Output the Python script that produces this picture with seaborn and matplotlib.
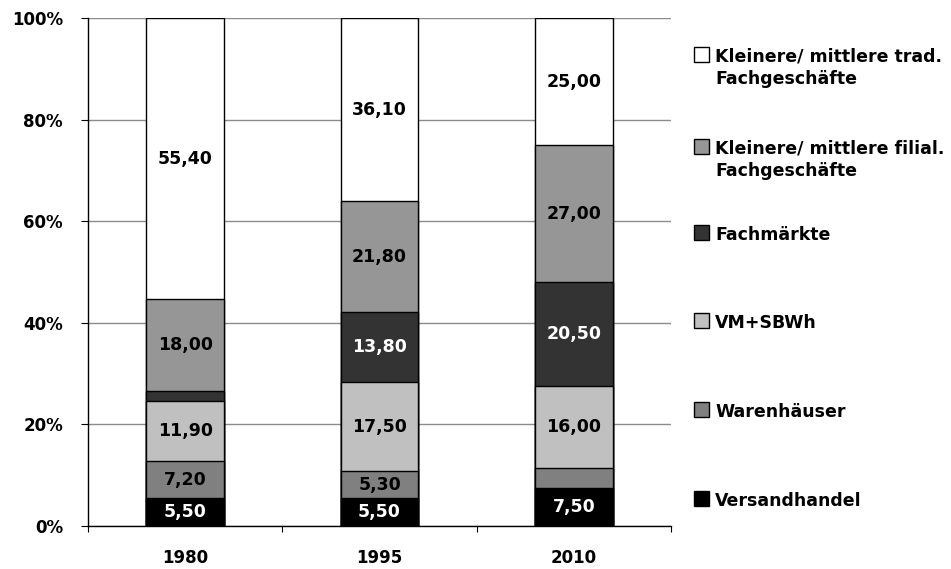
import matplotlib
matplotlib.use("Agg")
import matplotlib.pyplot as plt
from matplotlib.patches import Rectangle
import numpy as np
import pandas as pd
import seaborn as sns

# Shares of retail channels (percent), stacked bottom to top
years = ["1980", "1995", "2010"]
versandhandel = [5.5, 5.5, 7.5]
warenhaeuser = [7.2, 5.3, 4.0]
vm_sbwh = [11.9, 17.5, 16.0]
fachmaerkte = [2.0, 13.8, 20.5]
filial_fach = [18.0, 21.8, 27.0]
trad_fach = [55.4, 36.1, 25.0]

series_names = [
    "Versandhandel",
    "Warenhäuser",
    "VM+SBWh",
    "Fachmärkte",
    "Kleinere/ mittlere filial.\nFachgeschäfte",
    "Kleinere/ mittlere trad.\nFachgeschäfte",
]
series_values = [versandhandel, warenhaeuser, vm_sbwh, fachmaerkte, filial_fach, trad_fach]
fill_colors = ["#000000", "#808080", "#C0C0C0", "#333333", "#969696", "#FFFFFF"]
text_colors = ["white", "black", "black", "white", "black", "black"]
y_ticks = [0, 20, 40, 60, 80, 100]
y_tick_labels = ["0%", "20%", "40%", "60%", "80%", "100%"]

sns.set_theme(style="white")
plt.rcParams["font.family"] = ["DejaVu Sans"]
plt.rcParams["font.weight"] = "bold"
plt.rcParams["text.color"] = "black"
plt.rcParams["xtick.labelcolor"] = "black"
plt.rcParams["ytick.labelcolor"] = "black"

W, H = 951, 569
fig = plt.figure(figsize=(W / 100, H / 100), dpi=100)
ax = fig.add_axes([88 / W, 43 / H, (671 - 88) / W, (526 - 18) / H])

frame = pd.DataFrame({"Jahr": years})
for name, vals in zip(series_names, series_values):
    frame[name] = vals
cum = frame[series_names].cumsum(axis=1)

# draw cumulative bars from the top layer down so lower layers overlay
for i in reversed(range(len(series_names))):
    sns.barplot(x=frame["Jahr"], y=cum[series_names[i]], color=fill_colors[i],
                saturation=1, width=0.4, edgecolor="black", linewidth=1.0,
                ax=ax, zorder=3)

# segment value labels
for i, name in enumerate(series_names):
    for j, yr in enumerate(years):
        v = frame.loc[j, name]
        if v < 5:
            continue
        mid = cum.loc[j, name] - v / 2
        ax.text(j, mid, f"{v:.2f}".replace(".", ","), ha="center", va="center",
                fontsize=12.5, fontweight="bold", color=text_colors[i], zorder=5)

ax.set_ylim(0, 100)
ax.set_xlim(-0.5, 2.5)
ax.set_yticks(y_ticks)
ax.set_yticklabels(y_tick_labels, fontsize=12, fontweight="bold")
ax.yaxis.grid(True, color="#8c8c8c", linewidth=1.0)
ax.set_axisbelow(True)

ax.set_xticks([-0.5, 0.5, 1.5, 2.5])
ax.set_xticklabels([])
ax.set_xticks([0, 1, 2], minor=True)
ax.set_xticklabels(years, minor=True, fontsize=12, fontweight="bold")
ax.tick_params(axis="x", which="major", direction="out", length=4.3, width=0.8, color="black", bottom=True)
ax.tick_params(axis="x", which="minor", length=0, pad=16.5, labelcolor="black")
ax.tick_params(axis="y", direction="out", length=5, width=0.8, color="black", left=True, pad=13,
               labelcolor="black")
ax.set_xlabel("")
ax.set_ylabel("")

for side in ["top", "right"]:
    ax.spines[side].set_visible(False)
for side in ["left", "bottom"]:
    ax.spines[side].set_color("black")
    ax.spines[side].set_linewidth(1.0)

# legend on the right, top entry first (first-line baselines in pixels)
legend_fs = 12.5
fs_px = legend_fs * 100 / 72
legend_baselines = [61, 153, 239, 327, 416, 505]
for k, i in enumerate(reversed(range(len(series_names)))):
    base = legend_baselines[k]
    fig.add_artist(Rectangle((694 / W, 1 - (base + 1) / H), 15 / W, 15 / H,
                             transform=fig.transFigure, facecolor=fill_colors[i],
                             edgecolor="black", linewidth=1.0))
    fig.text(715 / W, 1 - (base - 0.76 * fs_px) / H, series_names[i], ha="left", va="top",
             fontsize=legend_fs, fontweight="bold", color="black", linespacing=1.3)

fig.savefig("out.png", dpi=100, facecolor="white")
